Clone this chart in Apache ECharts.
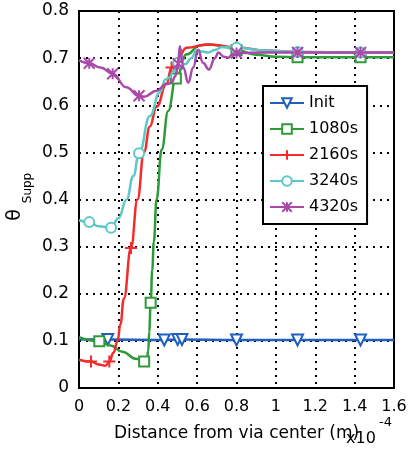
<!DOCTYPE html>
<html>
<head>
<meta charset="utf-8">
<script src="https://cdn.jsdelivr.net/npm/echarts@6/dist/echarts.min.js"></script>
<style>
  html, body { margin: 0; padding: 0; background: #fff; }
  #chart { width: 408px; height: 452px; }
</style>
</head>
<body>
<div id="chart"></div>
<script>
// Surface coverage profiles along the radial distance (x in units of 1e-4 m)
const seriesNames = ['Init', '1080s', '2160s', '3240s', '4320s'];

const initPts = [[0,0.103],[0.146,0.103],[0.433,0.102],[0.501,0.103],[0.523,0.103],[0.80,0.102],[1.11,0.102],[1.43,0.102],[1.6,0.102]];
const initMarks = [0.146, 0.433, 0.501, 0.523, 0.80, 1.11, 1.43];

const s1080Pts = [[0,0.108],[0.103,0.099],[0.16,0.09],[0.22,0.077],[0.29,0.062],[0.331,0.056],[0.345,0.062],[0.352,0.08],[0.357,0.12],[0.364,0.181],[0.372,0.25],[0.38,0.31],[0.394,0.40],[0.42,0.506],[0.453,0.588],[0.492,0.657],[0.547,0.708],[0.614,0.727],[0.66,0.729],[0.72,0.727],[0.80,0.717],[0.9,0.707],[1.0,0.703],[1.11,0.702],[1.43,0.702],[1.6,0.702]];
const s1080Marks = [0.103, 0.331, 0.364, 0.492, 0.80, 1.11, 1.43];

const s2160Pts = [[0,0.060],[0.061,0.056],[0.10,0.05],[0.134,0.047],[0.154,0.056],[0.175,0.075],[0.196,0.10],[0.21,0.135],[0.228,0.19],[0.264,0.297],[0.297,0.40],[0.33,0.50],[0.36,0.555],[0.394,0.597],[0.445,0.646],[0.47,0.68],[0.50,0.70],[0.547,0.722],[0.648,0.729],[0.80,0.723],[0.95,0.716],[1.11,0.713],[1.43,0.712],[1.6,0.712]];
const s2160Marks = [0.061, 0.154, 0.264, 0.47, 0.80, 1.11, 1.43];

const s3240Pts = [[0,0.356],[0.052,0.352],[0.10,0.343],[0.163,0.34],[0.20,0.36],[0.242,0.40],[0.276,0.45],[0.305,0.498],[0.36,0.577],[0.41,0.627],[0.44,0.655],[0.46,0.659],[0.48,0.672],[0.504,0.69],[0.52,0.689],[0.54,0.687],[0.57,0.70],[0.597,0.716],[0.625,0.714],[0.656,0.712],[0.69,0.717],[0.724,0.723],[0.80,0.722],[0.95,0.716],[1.11,0.713],[1.43,0.712],[1.6,0.712]];
const s3240Marks = [0.052, 0.163, 0.305, 0.504, 0.80, 1.11, 1.43];

const s4320Pts = [[0,0.695],[0.052,0.689],[0.11,0.68],[0.171,0.667],[0.24,0.638],[0.305,0.620],[0.33,0.618],[0.394,0.631],[0.445,0.645],[0.47,0.648],[0.49,0.662],[0.504,0.688],[0.512,0.725],[0.53,0.68],[0.555,0.648],[0.58,0.68],[0.605,0.718],[0.63,0.69],[0.66,0.676],[0.69,0.70],[0.708,0.712],[0.735,0.703],[0.758,0.701],[0.78,0.708],[0.80,0.711],[0.95,0.712],[1.11,0.712],[1.43,0.712],[1.6,0.712]];
const s4320Marks = [0.052, 0.171, 0.305, 0.504, 0.80, 1.11, 1.43];

const FONT = 'DejaVu Sans';
const colors = ['#1f5fbf', '#2e9a3a', '#f52a2a', '#5cc8c8', '#a94aaa'];
const symbols = [
  'path://M0,0L10,0L5,9Z',
  'rect',
  'path://M5,0L5,10M0,5L10,5',
  'circle',
  'path://M0,0L10,10M10,0L0,10M5,0L5,10'
];
const symbolSizes = [11, 10, 12, 10, 11];
const allPts = [initPts, s1080Pts, s2160Pts, s3240Pts, s4320Pts];
const allMarks = [initMarks, s1080Marks, s2160Marks, s3240Marks, s4320Marks];

function buildData(pts, marks) {
  return pts.map(p => marks.indexOf(p[0]) >= 0 ? { value: p } : { value: p, symbol: 'none' });
}

const series = seriesNames.map((name, i) => ({
  name: name,
  type: 'line',
  smooth: 0.45,
  smoothMonotone: 'x',
  showAllSymbol: true,
  symbol: symbols[i],
  symbolSize: symbolSizes[i],
  data: buildData(allPts[i], allMarks[i]),
  lineStyle: { color: colors[i], width: 2.5 },
  itemStyle: {
    color: (i === 2 || i === 4) ? colors[i] : '#ffffff',
    borderColor: colors[i],
    borderWidth: 2
  },
  emphasis: { disabled: true },
  z: 3 + i
}));

const chart = echarts.init(document.getElementById('chart'), null, { renderer: 'canvas' });
chart.setOption({
  animation: false,
  backgroundColor: '#ffffff',
  grid: {
    left: 79, right: 14, top: 11, bottom: 64,
    containLabel: false,
    outerBoundsMode: 'none',
    show: true, borderColor: '#000', borderWidth: 2, backgroundColor: 'transparent'
  },
  legend: {
    orient: 'vertical',
    left: 263, top: 86,
    padding: [9, 9, 9, 6],
    backgroundColor: '#fff',
    borderColor: '#000',
    borderWidth: 2,
    itemWidth: 34,
    itemHeight: 12,
    itemGap: 10,
    itemTextGap: 7,
    textStyle: { fontFamily: FONT, fontSize: 16, color: '#000', lineHeight: 16 },
    data: seriesNames
  },
  xAxis: {
    type: 'value',
    min: 0, max: 1.6, interval: 0.2,
    name: 'Distance from via center (m)',
    nameLocation: 'middle',
    nameGap: 37,
    nameTextStyle: { fontFamily: FONT, fontSize: 17, color: '#000' },
    axisLine: { show: true, lineStyle: { color: '#000', width: 2 } },
    axisTick: { show: false },
    axisLabel: { fontFamily: FONT, fontSize: 16, color: '#000', margin: 11 },
    splitLine: { show: true, lineStyle: { color: '#000', width: 2, type: [2, 5] } }
  },
  yAxis: {
    type: 'value',
    min: 0, max: 0.8, interval: 0.1,
    axisLine: { show: true, lineStyle: { color: '#000', width: 2 } },
    axisTick: { show: false },
    axisLabel: { fontFamily: FONT, fontSize: 17, color: '#000', margin: 10 },
    splitLine: { show: true, lineStyle: { color: '#000', width: 2, type: [2, 5] } }
  },
  graphic: [
    // y-axis title: theta with subscript, rotated to read bottom-to-top
    { type: 'text', x: 15, y: 215, rotation: Math.PI / 2,
      style: { text: 'θ', font: '19px "DejaVu Sans"', fill: '#000', align: 'center', verticalAlign: 'middle' } },
    { type: 'text', x: 28, y: 188, rotation: Math.PI / 2,
      style: { text: 'Supp', font: '12px "DejaVu Sans"', fill: '#000', align: 'center', verticalAlign: 'middle' } },
    // exponent of the x-axis scale
    { type: 'text', left: 346, top: 431, style: { text: 'x10', font: '16px "DejaVu Sans"', fill: '#000' } },
    { type: 'text', left: 379, top: 416, style: { text: '-4', font: '13px "DejaVu Sans"', fill: '#000' } }
  ],
  series: series
});
</script>
</body>
</html>
